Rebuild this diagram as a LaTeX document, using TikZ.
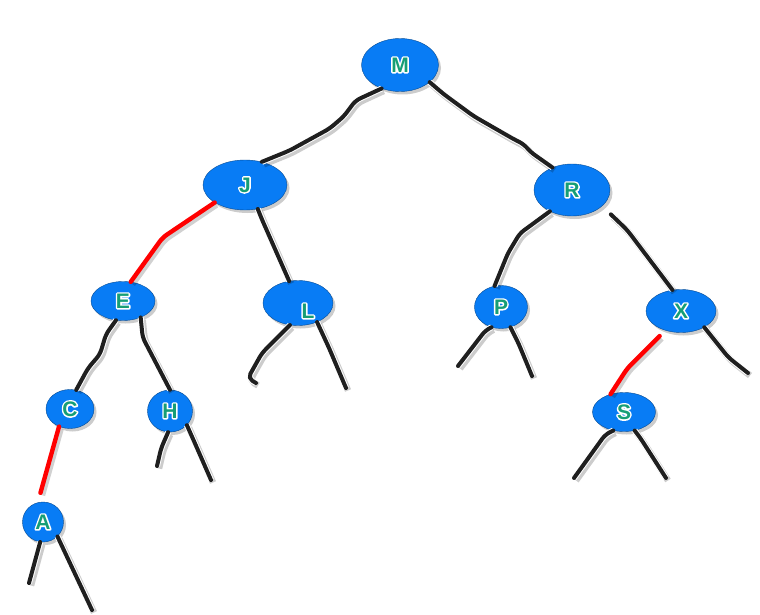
\documentclass[tikz,border=0pt]{standalone}
\usepackage{fontspec}
\newfontfamily\keyfont{Liberation Sans}
\usetikzlibrary{shapes.geometric,shadows}
\definecolor{keyblue}{RGB}{8,124,245}
\definecolor{keygreen}{RGB}{22,158,118}
% white outlined copy behind the green letter
\newcommand{\keytag}[1]{\makebox[0pt][l]{\textcolor{white}{\special{pdf:literal direct 2 Tr 3 w 1 j}#1\special{pdf:literal direct 0 Tr 1 w}}}\textcolor{keygreen}{#1}}
\tikzset{
	keytext/.style={font=\keyfont\bfseries\fontsize{21pt}{21pt}\selectfont,inner sep=0pt},
	rb/.style={ellipse,draw=keyblue!60!black,line width=0.4pt,fill=keyblue,keytext,
		drop shadow={shadow xshift=2.5pt,shadow yshift=-3pt,opacity=0.4}},
	link/.style={line width=4pt,line cap=round,line join=round,rounded corners=5pt,draw=black!88,
		preaction={draw=black,draw opacity=0.2,line width=6.5pt,transform canvas={xshift=2pt,yshift=-2.5pt}},
		preaction={draw=white,line width=6pt}},
	redlink/.style={line width=4.4pt,line cap=round,line join=round,rounded corners=5pt,draw=red,
		preaction={draw=black,draw opacity=0.18,line width=5.5pt,transform canvas={xshift=2pt,yshift=-2.5pt}}}
}
\begin{document}
\begin{tikzpicture}[x=1pt,y=-1pt]
		\useasboundingbox (0,0) rectangle (760,615);
		\node[rb,minimum width=77pt,minimum height=53pt] (m) at (400,65) {\keytag{M}};
		\node[rb,minimum width=84pt,minimum height=50pt] (j) at (245,185) {\keytag{J}};
		\node[rb,minimum width=76pt,minimum height=52pt] (r) at (572,190) {\keytag{R}};
		
		\node[rb,minimum width=64pt,minimum height=39pt] (e) at (123,301) {\keytag{E}};
		\node[rb,minimum width=70pt,minimum height=45pt,label={[keytext,xshift=10pt,yshift=-8pt]center:\keytag{L}}] (l) at (298,303) {};
		\node[rb,minimum width=53pt,minimum height=43pt] (p) at (501,307) {\keytag{P}};
		\node[rb,minimum width=70pt,minimum height=43pt] (x) at (681,311) {\keytag{X}};
		
		\node[rb,minimum width=48pt,minimum height=39pt] (c) at (70,409) {\keytag{C}};
		\node[rb,minimum width=45pt,minimum height=42pt] (h) at (170,411) {\keytag{H}};
		\node[rb,minimum width=63pt,minimum height=39pt] (s) at (624,412) {\keytag{S}};
		\node[rb,minimum width=41pt,minimum height=40pt] (a) at (43,522) {\keytag{A}};
		
		% free ends of the empty links
		\node[coordinate] (lnl) at (256,383) {};
		\node[coordinate] (lnr) at (346,388) {};
		\node[coordinate] (pnl) at (458,366) {};
		\node[coordinate] (pnr) at (532,376) {};
		\node[coordinate] (xnr) at (748,373) {};
		\node[coordinate] (hnl) at (157,466) {};
		\node[coordinate] (hnr) at (211,480) {};
		\node[coordinate] (snl) at (574,478) {};
		\node[coordinate] (snr) at (666,478) {};
		\node[coordinate] (anl) at (29,583) {};
		\node[coordinate] (anr) at (92,610) {};
		
		\draw[link] (m.232) -- ++(-26,12) -- ++(-12,16) -- ++(-14,12) -- ++(-40,22) -- (j.54);
		\draw[link] (m.330) -- ++(14,12) -- ++(30,22) -- ++(40,23) -- ++(10,5) -- ++(7,8) -- (r.131);
		\draw[redlink] (j.210) -- ++(-52,35) -- (e.68);
		\draw[link] (j.298) -- ++(4,10) -- (l.112);
		\draw[link] (r.224) -- ++(-30,22) -- ++(-12,20) -- (p.107);
		\draw[link,shorten <=12pt] (r.332) -- ++(25,24) -- (x.112);
		\draw[link] (e.250) -- ++(-10,14) -- ++(-6,20) -- ++(-12,14) -- (c.72);
		\draw[link] (e.317) -- ++(2,20) -- (h.90);
		\draw[redlink,shorten >=10pt] (c.238) -- (a.105);
		\draw[redlink,shorten <=8pt] (x.231) -- ++(-38,38) -- (s.127);
		
		\draw[link] (l.250) -- ++(-28,28) -- ++(-14,25) -- (lnl);
		\draw[link] (l.315) -- ++(12,26) -- (lnr);
		\draw[link] (p.245) -- ++(-6,3) -- (pnl);
		\draw[link] (p.295) -- ++(8,16) -- (pnr);
		\draw[link] (x.325) -- ++(24,30) -- ++(10,8) -- (xnr);
		\draw[link] (h.265) -- ++(-7,16) -- (hnl);
		\draw[link] (h.320) -- ++(8,18) -- (hnr);
		\draw[link] (s.240) -- ++(-8,4) -- (snl);
		\draw[link] (s.300) -- ++(6,8) -- (snr);
		\draw[link] (a.262) -- (anl);
		\draw[link] (a.315) -- (anr);
	\end{tikzpicture}
\end{document}
